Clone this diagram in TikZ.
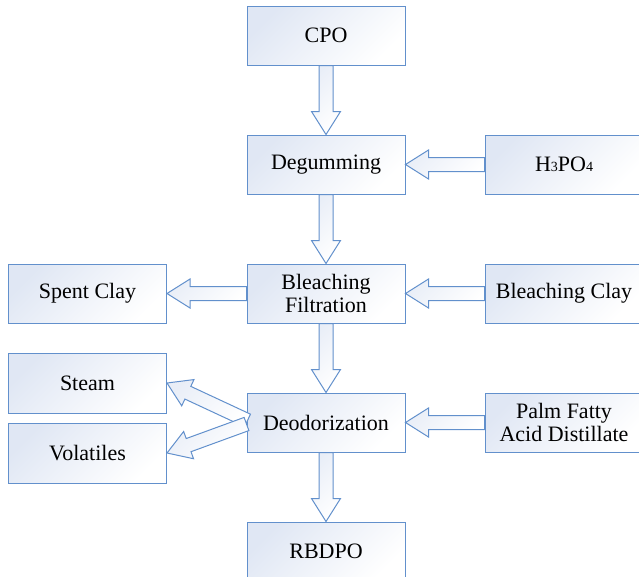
\documentclass[tikz,border=0pt]{standalone}
\usepackage{fontspec}
\setmainfont{Liberation Serif}
\newfontfamily\boxfont{Liberation Serif}
\usetikzlibrary{calc}
\definecolor{boxline}{RGB}{98,144,204}
\definecolor{boxshade}{RGB}{224,231,244}
\newcommand{\blockarrow}[2]{%
  \coordinate (hb) at ($(#2)!23pt!(#1)$);
  \draw[arrowbody] ($(#1)!7pt!90:(#2)$) -- ($(hb)!7pt!90:(#2)$) -- ($(hb)!14.5pt!90:(#2)$) -- (#2)
    -- ($(hb)!14.5pt!-90:(#2)$) -- ($(hb)!7pt!-90:(#2)$) -- ($(#1)!7pt!-90:(#2)$) -- cycle;
}
\newcommand{\smalldigit}[1]{{\fontsize{14}{14}\selectfont #1}}
\begin{document}
\begin{tikzpicture}[x=1pt, y=-1pt, font=\boxfont\fontsize{22}{23}\selectfont,
  procbox/.style={draw=boxline, line width=1pt, top color=boxshade, bottom color=white,
    shading angle=45, minimum width=158pt, minimum height=59pt, align=center, inner sep=2pt},
  arrowbody/.style={draw=boxline, line width=1pt, line join=miter, top color=boxshade!70,
    bottom color=white, shading angle=45}]
   \useasboundingbox (0,0) rectangle (639,576);
   \clip (0,0) rectangle (639,576);
   \node[procbox] (cpo) at (326,35.5) {CPO};
   \node[procbox] (deg) at (326,164.5) {Degumming};
   \node[procbox] (hpo) at (564,164.5) {H\smalldigit{3}PO\smalldigit{4}};
   \node[procbox] (ble) at (326,293.5) {Bleaching\\Filtration};
   \node[procbox] (spent) at (87.5,293.5) {Spent Clay};
   \node[procbox] (bclay) at (564,293.5) {Bleaching Clay};
   \node[procbox, minimum height=60pt] (steam) at (87.5,383) {Steam};
   \node[procbox, minimum height=60pt] (vol) at (87.5,453) {Volatiles};
   \node[procbox] (deo) at (326,422.5) {Deodorization};
   \node[procbox] (pfad) at (564,422.5) {Palm Fatty\\Acid Distillate};
   \node[procbox] (rbd) at (326,551.5) {RBDPO};
   \coordinate (steamtail) at ($(deo.west)+(1,-2)$);
   \coordinate (voltail) at ($(deo.west)+(0,1.5)$);
   \blockarrow{cpo.south}{deg.north}
   \blockarrow{deg.south}{ble.north}
   \blockarrow{ble.south}{deo.north}
   \blockarrow{deo.south}{rbd.north}
   \blockarrow{hpo.west}{deg.east}
   \blockarrow{bclay.west}{ble.east}
   \blockarrow{pfad.west}{deo.east}
   \blockarrow{ble.west}{spent.east}
   \blockarrow{steamtail}{steam.east}
   \blockarrow{voltail}{vol.east}
  \end{tikzpicture}
\end{document}
